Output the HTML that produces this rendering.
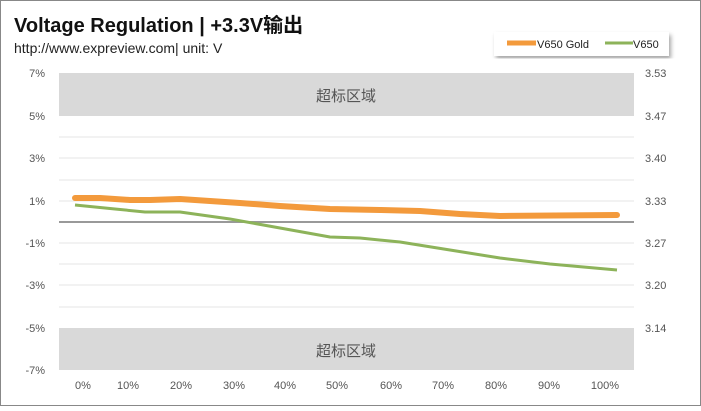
<!DOCTYPE html>
<html><head><meta charset="utf-8"><style>
body{margin:0;background:#fff}
svg text{font-family:"Liberation Sans","Noto Sans CJK SC",sans-serif}
</style></head><body>
<svg width="701" height="406" xmlns="http://www.w3.org/2000/svg">
<rect x="0.5" y="0.5" width="700" height="405" fill="#fff" stroke="#888"/>
<text x="14" y="32" font-size="20" font-weight="bold" fill="#111">Voltage Regulation | +3.3V输出</text>
<text x="14" y="53" font-size="14" fill="#222">http://www.expreview.com| unit: V</text>
<defs><filter id="sh"><feDropShadow dx="2" dy="3" stdDeviation="2" flood-color="#000" flood-opacity="0.35"/></filter></defs>
<rect x="494" y="32" width="175" height="24" fill="#fff" filter="url(#sh)"/>
<line x1="507" y1="43" x2="536" y2="43" stroke="#f39a3c" stroke-width="5"/>
<text x="537" y="48" font-size="11" fill="#222">V650 Gold</text>
<line x1="605" y1="43" x2="633" y2="43" stroke="#8db35a" stroke-width="3"/>
<text x="633" y="48" font-size="11" fill="#222">V650</text>
<g stroke="#e6e6e6" stroke-width="1">
<line x1="59" y1="137" x2="634" y2="137"/><line x1="59" y1="158" x2="634" y2="158"/>
<line x1="59" y1="180" x2="634" y2="180"/><line x1="59" y1="201" x2="634" y2="201"/>
<line x1="59" y1="243" x2="634" y2="243"/><line x1="59" y1="264" x2="634" y2="264"/>
<line x1="59" y1="285" x2="634" y2="285"/><line x1="59" y1="307" x2="634" y2="307"/>
</g>
<rect x="59" y="73" width="575" height="43" fill="#d9d9d9"/>
<rect x="59" y="328" width="575" height="42" fill="#d9d9d9"/>
<text x="346" y="101" font-size="15" fill="#555" text-anchor="middle">超标区域</text>
<text x="346" y="356" font-size="15" fill="#555" text-anchor="middle">超标区域</text>
<line x1="59" y1="222" x2="634" y2="222" stroke="#999" stroke-width="2"/>
<g font-size="11" fill="#555" text-anchor="end">
<text x="45" y="77">7%</text><text x="45" y="120">5%</text><text x="45" y="162">3%</text>
<text x="45" y="205">1%</text><text x="45" y="247">-1%</text><text x="45" y="289">-3%</text>
<text x="45" y="332">-5%</text><text x="45" y="374">-7%</text>
</g>
<g font-size="11" fill="#555">
<text x="645" y="77">3.53</text><text x="645" y="120">3.47</text><text x="645" y="162">3.40</text>
<text x="645" y="205">3.33</text><text x="645" y="247">3.27</text><text x="645" y="289">3.20</text>
<text x="645" y="332">3.14</text>
</g>
<g font-size="11" fill="#555" text-anchor="middle">
<text x="83" y="389">0%</text><text x="128" y="389">10%</text><text x="181" y="389">20%</text>
<text x="234" y="389">30%</text><text x="285" y="389">40%</text><text x="337" y="389">50%</text>
<text x="391" y="389">60%</text><text x="443" y="389">70%</text><text x="496" y="389">80%</text>
<text x="549" y="389">90%</text><text x="605" y="389">100%</text>
</g>
<polyline fill="none" stroke="#f39a3c" stroke-width="6" stroke-linecap="round" stroke-linejoin="round"
points="75,198 100,198 130,200 150,200 180,199 210,201 240,203 280,206 330,209 380,210 420,211 460,214 500,216 617,215"/>
<polyline fill="none" stroke="#8db35a" stroke-width="3" stroke-linejoin="round"
points="75,205 115,209 145,212 180,212 230,219 280,228 330,237 360,238 400,242 450,250 500,258 550,264 617,270"/>
</svg>
</body></html>
